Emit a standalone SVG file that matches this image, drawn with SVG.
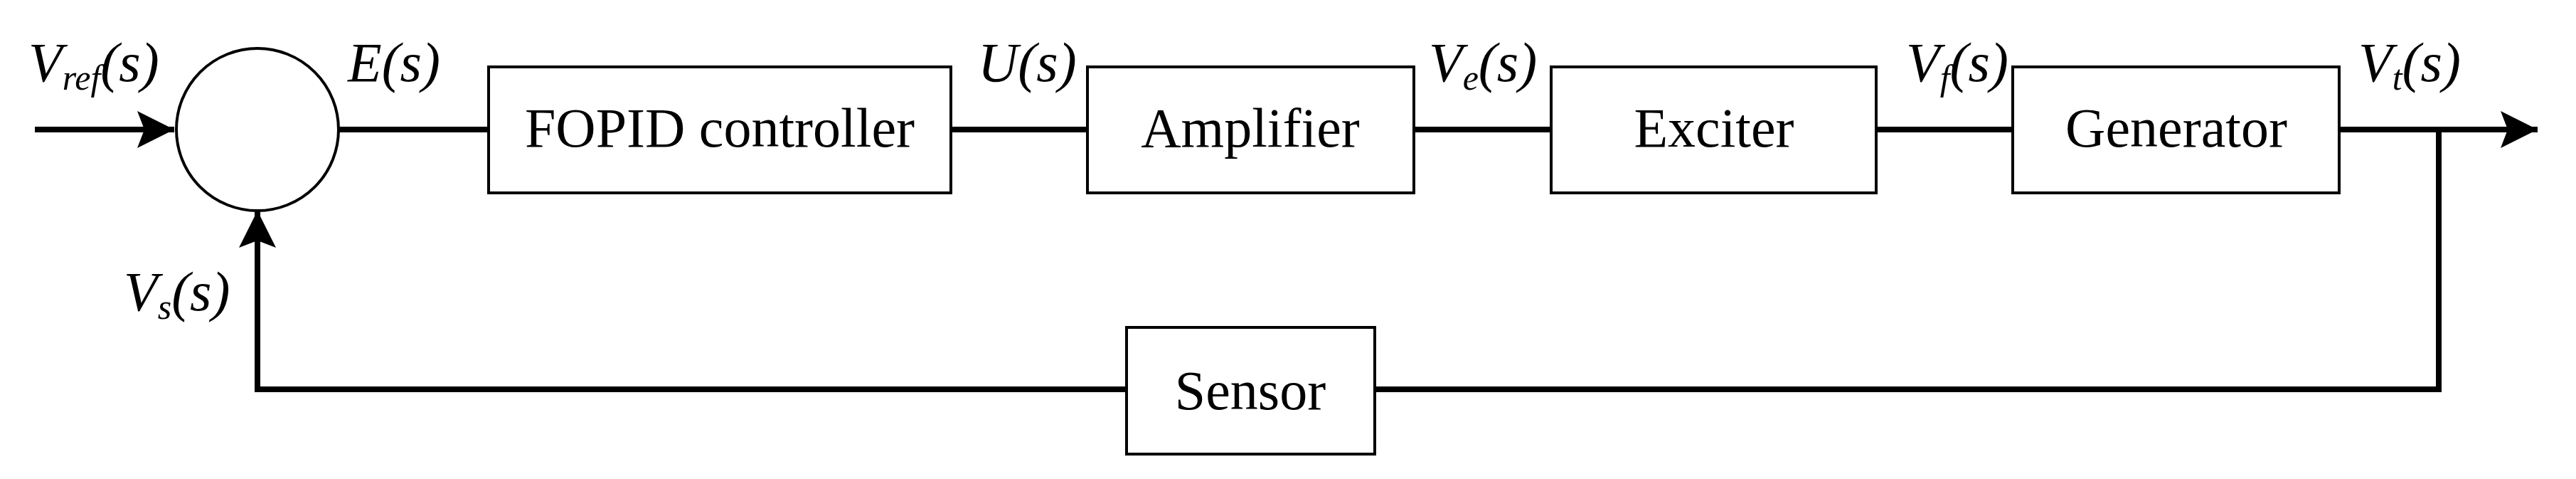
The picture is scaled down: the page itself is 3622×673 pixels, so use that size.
<svg xmlns="http://www.w3.org/2000/svg" width="3622" height="673" viewBox="0 0 3622 673">
<style>
.b{fill:#fff;stroke:#000;stroke-width:4}
.w{stroke:#000;stroke-width:8;fill:none}
.t{font-family:"Liberation Serif",serif;font-size:78px;text-anchor:middle}
.l{font-family:"Liberation Serif",serif;font-size:78px;font-style:italic}
.s{font-size:50px}
</style>
<defs><marker id="a" markerUnits="userSpaceOnUse" markerWidth="54" markerHeight="54" refX="52" refY="26" orient="auto"><path d="M0,0L52,26L0,52L10,26Z"/></marker></defs>
<rect width="3622" height="673" fill="#fff"/>
<g id="connectors">
<path class="w" d="M49,182H245" marker-end="url(#a)"/>
<path class="w" d="M476,182H687M1337,182H1529M1988,182H2181M2638,182H2830"/>
<path class="w" d="M3289,182H3568" marker-end="url(#a)"/>
<path class="w" d="M3429,182V547H1933M1584,547H362V296" marker-end="url(#a)"/>
</g>
<g id="sum"><circle cx="362" cy="182" r="114" class="b"/></g>
<g id="fopid"><rect class="b" x="687" y="94" width="650" height="177"/><text class="t" x="1012" y="206">FOPID controller</text></g>
<g id="amplifier"><rect class="b" x="1529" y="94" width="459" height="177"/><text class="t" x="1758" y="206">Amplifier</text></g>
<g id="exciter"><rect class="b" x="2181" y="94" width="457" height="177"/><text class="t" x="2410" y="206">Exciter</text></g>
<g id="generator"><rect class="b" x="2830" y="94" width="459" height="177"/><text class="t" x="3060" y="206">Generator</text></g>
<g id="sensor"><rect class="b" x="1584" y="460" width="349" height="178"/><text class="t" x="1758" y="575">Sensor</text></g>
<g id="labels">
<text class="l" x="40" y="114">V<tspan class="s" dy="12">ref</tspan><tspan dy="-12">(s)</tspan></text>
<text class="l" x="489" y="114">E(s)</text>
<text class="l" x="1375" y="114">U(s)</text>
<text class="l" x="2009" y="114">V<tspan class="s" dy="12">e</tspan><tspan dy="-12">(s)</tspan></text>
<text class="l" x="2680" y="114">V<tspan class="s" dy="12">f</tspan><tspan dy="-12">(s)</tspan></text>
<text class="l" x="3316" y="114">V<tspan class="s" dy="12">t</tspan><tspan dy="-12">(s)</tspan></text>
<text class="l" x="174" y="436">V<tspan class="s" dy="12">s</tspan><tspan dy="-12">(s)</tspan></text>
</g>
</svg>
